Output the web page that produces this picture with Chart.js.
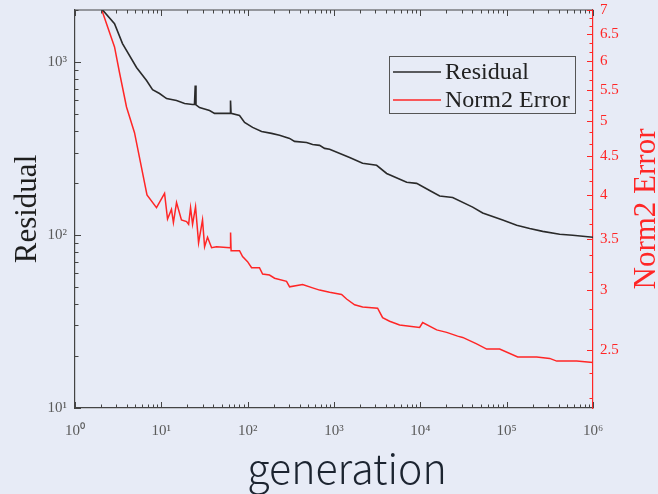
<!DOCTYPE html>
<html>
<head>
<meta charset="utf-8">
<script src="https://cdn.jsdelivr.net/npm/chart.js@4/dist/chart.umd.min.js"></script>
<style>
	html, body { margin: 0; padding: 0; background: #e7ebf6; }
	#wrap { width: 658px; height: 494px; }
</style>
</head>
<body>
<div id="wrap"><canvas id="chart" width="658" height="494"></canvas></div>
<script>
// generation / residual
let genResidual = [2, 2.87, 3.55, 5.16, 6.74, 7.91, 9.53, 11.5, 15.0, 18.6, 23.0, 24.2, 24.7, 25.2, 27.7,
	36.2, 41.3, 58.5, 62.5, 63.3, 64.2, 80.5, 92.1, 114, 145, 189, 234, 306, 349, 481, 565, 681, 778, 889,
	1517, 2145, 3117, 4073, 6950, 9060, 12820, 16750, 23680, 40370, 52720, 89890, 130600, 184800, 261400,
	411300, 582000, 1000000]
let residual = [2050, 1667, 1279, 930, 782, 693, 658, 615, 600, 576, 569, 570, 731, 565, 546,
	525, 505, 505, 505, 600, 505, 491, 448, 419, 397, 387, 377, 362, 348, 343, 334, 330, 317, 313,
	281, 260, 253, 227, 202, 199, 181, 168, 165, 145, 134, 122, 114, 109, 105,
	101, 99.8, 97]

// generation / norm2 error
let genError = [2, 2.87, 3.28, 3.95, 4.89, 6.82, 8.79, 10.9, 11.8, 13.1, 13.8, 15.0, 17.1, 19.6, 20.7,
	21.8, 23.0, 24.9, 27.0, 30.0, 31.7, 34.3, 38.2, 43.6, 62.5, 63.4, 64.3, 80.5, 87.3, 99.7, 111, 137,
	149, 179, 205, 282, 306, 433, 565, 681, 889, 1224, 1399, 1733, 2145, 3200, 3656, 4407, 5754, 7516,
	9815, 10640, 15460, 20190, 27060, 30930, 44910, 58650, 82960, 134200, 222900, 314900, 379500,
	647200, 1000000]
let norm2Error = [7.05, 6.26, 5.79, 5.22, 4.83, 4.00, 3.85, 4.02, 3.72, 3.83, 3.68, 3.91, 3.71, 3.69, 3.66,
	3.85, 3.66, 3.86, 3.46, 3.71, 3.42, 3.52, 3.41, 3.42, 3.41, 3.57, 3.38, 3.38, 3.32, 3.27, 3.21, 3.21,
	3.15, 3.14, 3.11, 3.08, 3.03, 3.05, 3.02, 3.00, 2.98, 2.96, 2.92, 2.87, 2.85, 2.84, 2.76, 2.73, 2.70, 2.69,
	2.68, 2.72, 2.66, 2.64, 2.61, 2.60, 2.55, 2.51, 2.51, 2.45, 2.45, 2.44, 2.42,
	2.42, 2.41]

let xTicks = [1, 10, 100, 1000, 10000, 100000, 1000000]
let xTickLabels = ['10⁰', '10¹', '10²', '10³', '10⁴', '10⁵', '10⁶']
let yTicks = [10, 100, 1000]
let yTickLabels = ['10¹', '10²', '10³']
let errTicks = [2.5, 3, 3.5, 4, 4.5, 5, 5.5, 6, 6.5, 7]
let errTickLabels = ['2.5', '3', '3.5', '4', '4.5', '5', '5.5', '6', '6.5', '7']

let bg = '#e7ebf6'
let axisGray = '#444444'
let labelGray = '#5a5a5a'
let red = '#ff2626'
let black = '#2a2a2a'

function points(xs, ys) {
	let out = []
	for (let i = 0; i < xs.length; i++) {
		out.push({ x: xs[i], y: ys[i] })
	}
	return out
}

// background, inward ticks, top frame line, legend box and axis titles
let decor = {
	id: 'decor',
	beforeDraw(chart) {
		let ctx = chart.ctx
		ctx.save()
		ctx.fillStyle = bg
		ctx.fillRect(0, 0, chart.width, chart.height)
		ctx.restore()
	},
	afterDraw(chart) {
		let ctx = chart.ctx
		let area = chart.chartArea
		let sx = chart.scales.x
		let sy = chart.scales.y
		let sy2 = chart.scales.y2
		ctx.save()

		// top frame line
		ctx.strokeStyle = axisGray
		ctx.lineWidth = 1.2
		ctx.beginPath()
		ctx.moveTo(area.left, area.top)
		ctx.lineTo(area.right, area.top)
		ctx.stroke()

		// x ticks, bottom and top, pointing inward
		ctx.lineWidth = 1
		for (let d = 0; d <= 6; d++) {
			for (let m = 1; m <= 9; m++) {
				let v = m * Math.pow(10, d)
				if (v > 1000000) break
				let px = Math.round(sx.getPixelForValue(v)) + 0.5
				let len = m === 1 ? 6 : 3.5
				ctx.beginPath()
				ctx.moveTo(px, area.bottom)
				ctx.lineTo(px, area.bottom - len)
				ctx.moveTo(px, area.top)
				ctx.lineTo(px, area.top + len)
				ctx.stroke()
			}
		}
		// left ticks
		for (let d = 1; d <= 3; d++) {
			for (let m = 1; m <= 9; m++) {
				let v = m * Math.pow(10, d)
				if (v > 2000) break
				let py = Math.round(sy.getPixelForValue(v)) + 0.5
				let len = m === 1 ? 6 : 3.5
				ctx.beginPath()
				ctx.moveTo(area.left, py)
				ctx.lineTo(area.left + len, py)
				ctx.stroke()
			}
		}
		// right ticks (red)
		ctx.strokeStyle = red
		for (let k = -2; k <= 27; k++) {
			let v = 2.5 + k / 6
			if (v < 2.1 || v > 7.001) continue
			let py = Math.round(sy2.getPixelForValue(v)) + 0.5
			let len = k % 3 === 0 ? 6 : 3.5
			ctx.beginPath()
			ctx.moveTo(area.right, py)
			ctx.lineTo(area.right - len, py)
			ctx.stroke()
		}

		// legend
		let lx = 389, ly = 56, lw = 186, lh = 57
		ctx.fillStyle = bg
		ctx.fillRect(lx, ly, lw, lh)
		ctx.strokeStyle = '#555555'
		ctx.lineWidth = 1
		ctx.strokeRect(lx + 0.5, ly + 0.5, lw, lh)
		ctx.font = '24px "Liberation Serif"'
		ctx.textBaseline = 'middle'
		ctx.textAlign = 'left'
		chart.data.datasets.forEach(function (ds, i) {
			let rowY = ly + 16 + i * 28
			ctx.strokeStyle = ds.borderColor
			ctx.lineWidth = 1.6
			ctx.beginPath()
			ctx.moveTo(lx + 4, rowY)
			ctx.lineTo(lx + 52, rowY)
			ctx.stroke()
			ctx.fillStyle = '#222222'
			ctx.fillText(ds.label, lx + 56, rowY + 1)
		})

		// axis titles
		ctx.fillStyle = '#1e1e1e'
		ctx.font = '31px "Liberation Serif"'
		ctx.textAlign = 'center'
		ctx.textBaseline = 'alphabetic'
		ctx.save()
		ctx.translate(36, (area.top + area.bottom) / 2)
		ctx.rotate(-Math.PI / 2)
		ctx.fillText('Residual', 0, 0)
		ctx.restore()

		ctx.fillStyle = red
		ctx.save()
		ctx.translate(655, (area.top + area.bottom) / 2)
		ctx.rotate(-Math.PI / 2)
		ctx.fillText('Norm2 Error', 0, 0)
		ctx.restore()

		ctx.fillStyle = '#1c2430'
		ctx.font = '300 41px "Noto Sans CJK JP"'
		ctx.fillText('generation', (area.left + area.right) / 2 + 13, 484)

		ctx.restore()
	},
}

// vertical axes: no extra room for half label heights
function noVerticalPadding(scale) {
	scale.paddingTop = 0
	scale.paddingBottom = 0
}

let canvas = document.getElementById('chart')
let chart = new Chart(canvas, {
	type: 'line',
	data: {
		datasets: [
			{
				label: 'Residual',
				data: points(genResidual, residual),
				yAxisID: 'y',
				borderColor: black,
				borderWidth: 1.6,
				pointRadius: 0,
				tension: 0,
			},
			{
				label: 'Norm2 Error',
				data: points(genError, norm2Error),
				yAxisID: 'y2',
				borderColor: red,
				borderWidth: 1.5,
				pointRadius: 0,
				tension: 0,
			},
		],
	},
	options: {
		responsive: false,
		animation: false,
		layout: { autoPadding: false, padding: { top: 10, left: 0, right: 0, bottom: 0 } },
		plugins: {
			legend: { display: false },
			tooltip: { enabled: false },
		},
		scales: {
			x: {
				type: 'logarithmic',
				min: 1,
				max: 1000000,
				grid: { display: false, drawTicks: false },
				border: { display: true, color: axisGray, width: 1.2 },
				afterBuildTicks: function (scale) {
					scale.ticks = xTicks.map(function (v) { return { value: v } })
				},
				afterFit: function (scale) {
					scale.height = 86
				},
				ticks: {
					autoSkip: false,
					maxRotation: 0,
					padding: 14,
					color: labelGray,
					font: { family: 'Liberation Serif', size: 15 },
					callback: function (value, index) {
						return xTickLabels[index]
					},
				},
			},
			y: {
				type: 'logarithmic',
				position: 'left',
				min: 10,
				max: 2000,
				grid: { display: false, drawTicks: false },
				border: { display: true, color: axisGray, width: 1.2 },
				afterBuildTicks: function (scale) {
					scale.ticks = yTicks.map(function (v) { return { value: v } })
				},
				afterFit: function (scale) {
					scale.width = 75
					noVerticalPadding(scale)
				},
				ticks: {
					autoSkip: false,
					padding: 8,
					color: labelGray,
					font: { family: 'Liberation Serif', size: 15 },
					callback: function (value, index) {
						return yTickLabels[index]
					},
				},
			},
			y2: {
				type: 'logarithmic',
				position: 'right',
				min: 2.1,
				max: 7,
				grid: { display: false, drawTicks: false },
				border: { display: true, color: red, width: 1.2 },
				afterBuildTicks: function (scale) {
					scale.ticks = errTicks.map(function (v) { return { value: v } })
				},
				afterFit: function (scale) {
					scale.width = 65
					noVerticalPadding(scale)
				},
				ticks: {
					autoSkip: false,
					padding: 7,
					color: red,
					font: { family: 'Liberation Serif', size: 15 },
					callback: function (value, index) {
						return errTickLabels[index]
					},
				},
			},
		},
	},
	plugins: [decor],
})
</script>
</body>
</html>
